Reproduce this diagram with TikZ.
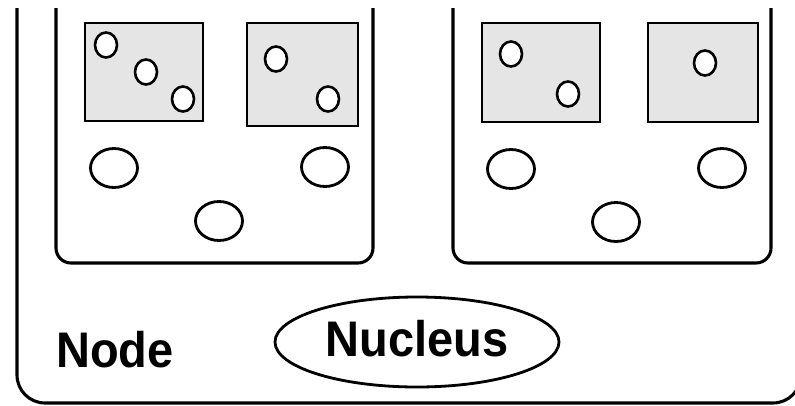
\documentclass[tikz,border=0pt]{standalone}
\usepackage{fontspec}
\setmainfont{Liberation Sans}[FakeStretch=0.94]
\usetikzlibrary{shapes,positioning}

\begin{document}
\begin{tikzpicture}[x=1pt,y=-1pt,
    frame/.style={line width=3.1pt,rounded corners=28pt},
    panel/.style={line width=3.1pt,rounded corners=15pt},
    cell/.style={draw,line width=2.8pt,fill=gray!20},
    dot/.style={draw,ellipse,line width=2.6pt,fill=white,minimum width=22pt,minimum height=25pt,inner sep=0pt},
    blob/.style={draw,ellipse,line width=2.8pt,minimum width=47pt,minimum height=39pt,inner sep=0pt},
    big/.style={font=\bfseries\fontsize{50}{52}\selectfont,inner sep=0pt}]
    \useasboundingbox (0,0) rectangle (795,405);
    % outer frame of the node
    \draw[frame] (17,8) -- (17,403) -- (801,403) -- (801,8);
    % two panels
    \draw[panel] (56,8) -- (56,263) -- (373,263) -- (373,8);
    \draw[panel] (453,8) -- (453,263) -- (771,263) -- (771,8);
    % grey cells
    \foreach \xa/\xb/\yb in {85/203/121, 247/358/126, 482/600/122, 648/758/122}
        \draw[cell] (\xa,23) rectangle (\xb,\yb);
    % small dots in the cells
    \foreach \n/\x/\y in {a/106/45, b/146/72, c/183/99, d/276/59, e/328/99, f/511/54, g/568/94, h/705/63}
        \node[dot] (dot\n) at (\x,\y) {};
    % blobs below the cells
    \foreach \n/\x/\y in {a/114/168, b/325/167, c/219/221, d/511/169, e/722/168, f/616/222}
        \node[blob] (blob\n) at (\x,\y) {};
    \node[big,anchor=base west] (node) at (56,367) {Node};
    \node[big,draw,ellipse,line width=2.8pt,minimum width=284pt,minimum height=90pt,text depth=8pt] (nucleus) at (417,342) {Nucleus};
\end{tikzpicture}
\end{document}
